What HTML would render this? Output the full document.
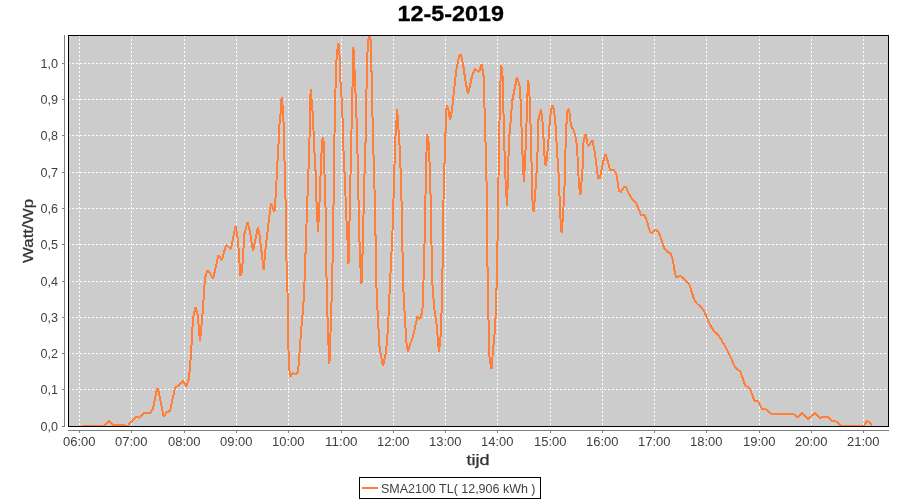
<!DOCTYPE html><html><head><meta charset="utf-8"><style>html,body{margin:0;padding:0;background:#fff;width:900px;height:500px;overflow:hidden}svg{display:block;will-change:transform}text{font-family:"Liberation Sans",sans-serif}</style></head><body>
<svg width="900" height="500" viewBox="0 0 900 500">
<rect x="0" y="0" width="900" height="500" fill="#ffffff"/>
<text x="397.5" y="21" font-size="22" font-weight="bold" fill="#000" stroke="#000" stroke-width="0.3" textLength="106.5" lengthAdjust="spacingAndGlyphs">12-5-2019</text>
<rect x="69" y="36" width="819" height="390" fill="#cccccc"/>
<path d="M79.5 35V426 M131.5 35V426 M184.5 35V426 M236.5 35V426 M288.5 35V426 M341.5 35V426 M393.5 35V426 M445.5 35V426 M497.5 35V426 M550.5 35V426 M602.5 35V426 M654.5 35V426 M706.5 35V426 M759.5 35V426 M811.5 35V426 M863.5 35V426 M68 426.5H888 M68 389.5H888 M68 353.5H888 M68 317.5H888 M68 281.5H888 M68 244.5H888 M68 208.5H888 M68 172.5H888 M68 135.5H888 M68 99.5H888 M68 63.5H888" stroke="#fff" stroke-width="1" stroke-dasharray="2 2" fill="none" shape-rendering="crispEdges"/>
<path d="M82.0 425.6 L102.5 425.6 L104.0 425.6 L109.0 421.0 L113.6 425.2 L128.0 425.6 L131.6 421.0 L135.6 417.2 L140.0 417.6 L144.0 413.0 L150.0 413.0 L153.0 409.0 L157.0 388.4 L158.0 389.0 L163.6 416.4 L167.0 412.0 L170.0 411.0 L175.0 388.0 L179.0 385.0 L183.0 381.0 L186.4 386.6 L189.0 378.0 L191.0 354.0 L193.0 318.0 L195.6 307.0 L197.6 314.0 L200.0 341.0 L202.4 316.0 L205.0 278.0 L207.6 270.0 L210.0 273.0 L213.0 279.0 L216.0 266.0 L218.4 255.0 L222.0 260.0 L226.0 245.0 L231.0 249.0 L233.0 238.0 L235.6 226.0 L238.0 240.0 L240.4 276.0 L242.0 272.0 L244.4 234.0 L247.6 222.0 L250.0 232.0 L253.0 251.0 L258.0 227.0 L260.0 238.0 L263.6 270.0 L266.0 244.0 L271.0 203.0 L274.4 212.0 L276.0 192.0 L277.0 170.0 L278.4 146.0 L279.6 122.0 L281.0 110.0 L281.6 97.0 L283.0 110.0 L283.6 124.0 L284.4 156.0 L285.6 202.0 L286.4 256.0 L287.0 280.0 L288.0 304.0 L288.4 346.0 L289.0 368.0 L290.4 377.0 L292.4 373.0 L296.0 374.0 L298.0 372.0 L299.0 360.0 L300.0 346.0 L301.0 332.0 L303.0 310.0 L304.0 294.0 L305.0 270.0 L306.0 238.0 L307.4 199.0 L309.0 156.0 L310.0 120.0 L310.6 89.0 L313.0 116.0 L314.0 144.0 L315.6 172.0 L316.4 200.0 L318.0 232.0 L320.0 192.0 L321.0 161.0 L322.4 140.0 L323.0 137.0 L324.0 144.0 L324.4 170.0 L325.6 210.0 L326.4 272.0 L327.6 320.0 L328.6 348.0 L329.4 364.0 L330.0 346.0 L331.0 320.0 L332.4 270.0 L333.6 200.0 L334.0 158.0 L335.0 110.0 L336.0 68.0 L337.0 52.0 L338.4 43.0 L340.0 60.0 L340.4 80.0 L342.0 104.0 L343.0 130.0 L343.6 154.0 L345.0 182.0 L346.0 210.0 L348.0 250.0 L348.5 264.0 L350.0 200.0 L351.0 150.0 L352.0 110.0 L353.4 47.0 L355.0 80.0 L357.0 130.0 L358.0 176.0 L359.0 222.0 L360.0 260.0 L361.5 284.0 L363.0 240.0 L364.0 190.0 L365.6 140.0 L367.0 62.0 L368.0 42.0 L369.0 36.0 L370.4 36.0 L371.6 74.0 L372.4 112.0 L373.6 158.0 L375.0 206.0 L376.4 286.0 L378.0 320.0 L379.6 348.0 L383.0 366.0 L386.0 352.0 L388.0 328.0 L389.6 292.0 L391.6 250.0 L393.0 220.0 L394.0 178.0 L395.6 134.0 L397.2 109.0 L398.0 122.0 L399.6 146.0 L401.0 180.0 L402.0 220.0 L403.0 282.0 L405.0 320.0 L406.4 342.0 L408.0 351.6 L410.0 344.0 L412.0 340.0 L414.0 332.0 L417.6 316.0 L420.0 319.0 L422.4 312.0 L423.0 292.0 L424.0 270.0 L425.0 220.0 L426.0 170.0 L427.0 134.0 L428.4 140.0 L429.6 164.0 L431.0 210.0 L432.0 278.0 L434.0 306.0 L437.0 328.0 L438.0 342.0 L439.0 352.0 L440.0 342.0 L441.0 332.0 L442.4 280.0 L443.0 218.0 L444.4 167.0 L445.6 130.0 L446.6 105.6 L448.4 109.0 L450.0 120.0 L452.0 110.0 L454.0 90.0 L456.4 70.0 L459.0 56.0 L461.0 54.4 L463.0 64.0 L465.6 82.0 L468.0 94.0 L470.0 86.0 L472.0 76.0 L475.0 69.0 L479.0 72.0 L481.6 64.0 L483.6 76.0 L484.4 102.0 L485.0 130.0 L485.6 144.0 L487.0 200.0 L487.3 256.0 L488.6 324.0 L489.6 360.0 L491.6 369.0 L493.0 350.0 L494.4 336.0 L495.6 316.0 L496.6 286.0 L497.4 248.0 L498.0 210.0 L499.0 144.0 L500.0 98.0 L501.0 65.0 L502.4 70.0 L503.0 98.0 L504.0 130.0 L505.0 170.0 L507.0 206.0 L509.0 140.0 L511.0 118.0 L512.0 102.0 L517.0 77.0 L519.6 86.0 L520.4 96.0 L521.6 130.0 L523.0 168.0 L524.0 182.0 L526.0 140.0 L527.0 106.0 L528.0 80.0 L529.0 86.0 L530.0 106.0 L531.0 140.0 L532.4 200.0 L533.6 212.0 L535.0 196.0 L536.4 176.0 L537.6 150.0 L538.4 120.0 L541.0 109.0 L542.4 120.0 L543.6 140.0 L545.0 164.0 L546.0 166.0 L548.0 146.0 L549.6 124.0 L551.0 110.0 L552.4 105.0 L554.0 110.0 L555.6 126.0 L557.0 150.0 L559.0 180.0 L560.0 212.0 L561.6 233.0 L563.0 216.0 L564.4 190.0 L566.0 130.0 L567.6 110.0 L569.0 109.0 L571.0 126.0 L573.0 129.0 L575.0 134.0 L577.0 146.0 L579.0 186.0 L580.4 195.0 L582.4 172.0 L583.6 140.0 L585.6 134.0 L588.0 146.0 L590.0 144.0 L592.4 140.0 L595.0 154.0 L598.0 178.0 L600.0 178.0 L603.0 162.0 L605.6 154.0 L608.0 162.0 L610.0 170.0 L614.0 170.0 L616.4 174.0 L619.0 191.0 L621.0 192.0 L624.0 187.0 L626.0 187.0 L628.0 192.0 L632.0 199.0 L636.0 203.0 L639.0 210.0 L641.0 215.0 L644.0 215.0 L646.0 218.0 L650.0 232.0 L652.4 233.0 L655.0 230.0 L658.0 231.0 L661.0 238.0 L664.0 248.0 L668.0 252.0 L671.0 254.0 L673.0 261.0 L674.4 270.0 L676.0 277.0 L678.0 277.0 L680.0 275.6 L683.0 278.0 L686.0 281.0 L689.6 285.0 L692.0 293.0 L694.0 299.0 L697.0 303.6 L701.0 307.0 L704.0 311.0 L707.0 318.0 L710.0 325.0 L714.0 331.0 L719.0 336.0 L722.0 341.0 L725.0 346.0 L728.0 352.0 L731.0 358.0 L734.0 365.0 L736.4 369.0 L740.0 371.0 L742.0 376.0 L745.0 385.0 L747.6 387.0 L750.0 389.0 L752.0 394.0 L754.4 401.0 L758.0 401.0 L759.6 404.0 L762.0 409.0 L767.0 409.6 L771.0 413.6 L793.0 413.6 L797.6 417.6 L802.0 413.0 L808.0 419.0 L815.0 413.0 L820.0 418.0 L823.0 417.0 L827.6 417.0 L832.0 421.0 L837.0 421.6 L841.0 425.6 L864.0 425.6 L867.0 421.0 L869.6 422.4 L872.0 425.6" stroke="#ff7e3a" stroke-width="2" fill="none" stroke-linejoin="bevel" shape-rendering="crispEdges"/>
<rect x="68.5" y="35.5" width="820" height="391" fill="none" stroke="#000" stroke-width="1" shape-rendering="crispEdges"/>
<path d="M64.5 35V427 M68 430.5H889 M62 426.5H64 M62 389.5H64 M62 353.5H64 M62 317.5H64 M62 281.5H64 M62 244.5H64 M62 208.5H64 M62 172.5H64 M62 135.5H64 M62 99.5H64 M62 63.5H64 M79.5 431V433 M131.5 431V433 M184.5 431V433 M236.5 431V433 M288.5 431V433 M341.5 431V433 M393.5 431V433 M445.5 431V433 M497.5 431V433 M550.5 431V433 M602.5 431V433 M654.5 431V433 M706.5 431V433 M759.5 431V433 M811.5 431V433 M863.5 431V433" stroke="#808080" stroke-width="1" fill="none" shape-rendering="crispEdges"/>
<text x="58" y="431" font-size="12" fill="#404040" text-anchor="end" textLength="17.5" lengthAdjust="spacingAndGlyphs">0,0</text>
<text x="58" y="394" font-size="12" fill="#404040" text-anchor="end" textLength="17.5" lengthAdjust="spacingAndGlyphs">0,1</text>
<text x="58" y="358" font-size="12" fill="#404040" text-anchor="end" textLength="17.5" lengthAdjust="spacingAndGlyphs">0,2</text>
<text x="58" y="322" font-size="12" fill="#404040" text-anchor="end" textLength="17.5" lengthAdjust="spacingAndGlyphs">0,3</text>
<text x="58" y="286" font-size="12" fill="#404040" text-anchor="end" textLength="17.5" lengthAdjust="spacingAndGlyphs">0,4</text>
<text x="58" y="249" font-size="12" fill="#404040" text-anchor="end" textLength="17.5" lengthAdjust="spacingAndGlyphs">0,5</text>
<text x="58" y="213" font-size="12" fill="#404040" text-anchor="end" textLength="17.5" lengthAdjust="spacingAndGlyphs">0,6</text>
<text x="58" y="177" font-size="12" fill="#404040" text-anchor="end" textLength="17.5" lengthAdjust="spacingAndGlyphs">0,7</text>
<text x="58" y="140" font-size="12" fill="#404040" text-anchor="end" textLength="17.5" lengthAdjust="spacingAndGlyphs">0,8</text>
<text x="58" y="104" font-size="12" fill="#404040" text-anchor="end" textLength="17.5" lengthAdjust="spacingAndGlyphs">0,9</text>
<text x="58" y="68" font-size="12" fill="#404040" text-anchor="end" textLength="17.5" lengthAdjust="spacingAndGlyphs">1,0</text>
<text x="79.3" y="446" font-size="12" fill="#404040" text-anchor="middle" textLength="32.5" lengthAdjust="spacingAndGlyphs">06:00</text>
<text x="131.3" y="446" font-size="12" fill="#404040" text-anchor="middle" textLength="32.5" lengthAdjust="spacingAndGlyphs">07:00</text>
<text x="184.3" y="446" font-size="12" fill="#404040" text-anchor="middle" textLength="32.5" lengthAdjust="spacingAndGlyphs">08:00</text>
<text x="236.3" y="446" font-size="12" fill="#404040" text-anchor="middle" textLength="32.5" lengthAdjust="spacingAndGlyphs">09:00</text>
<text x="288.3" y="446" font-size="12" fill="#404040" text-anchor="middle" textLength="32.5" lengthAdjust="spacingAndGlyphs">10:00</text>
<text x="341.3" y="446" font-size="12" fill="#404040" text-anchor="middle" textLength="32.5" lengthAdjust="spacingAndGlyphs">11:00</text>
<text x="393.3" y="446" font-size="12" fill="#404040" text-anchor="middle" textLength="32.5" lengthAdjust="spacingAndGlyphs">12:00</text>
<text x="445.3" y="446" font-size="12" fill="#404040" text-anchor="middle" textLength="32.5" lengthAdjust="spacingAndGlyphs">13:00</text>
<text x="497.3" y="446" font-size="12" fill="#404040" text-anchor="middle" textLength="32.5" lengthAdjust="spacingAndGlyphs">14:00</text>
<text x="550.3" y="446" font-size="12" fill="#404040" text-anchor="middle" textLength="32.5" lengthAdjust="spacingAndGlyphs">15:00</text>
<text x="602.3" y="446" font-size="12" fill="#404040" text-anchor="middle" textLength="32.5" lengthAdjust="spacingAndGlyphs">16:00</text>
<text x="654.3" y="446" font-size="12" fill="#404040" text-anchor="middle" textLength="32.5" lengthAdjust="spacingAndGlyphs">17:00</text>
<text x="706.3" y="446" font-size="12" fill="#404040" text-anchor="middle" textLength="32.5" lengthAdjust="spacingAndGlyphs">18:00</text>
<text x="759.3" y="446" font-size="12" fill="#404040" text-anchor="middle" textLength="32.5" lengthAdjust="spacingAndGlyphs">19:00</text>
<text x="811.3" y="446" font-size="12" fill="#404040" text-anchor="middle" textLength="32.5" lengthAdjust="spacingAndGlyphs">20:00</text>
<text x="863.3" y="446" font-size="12" fill="#404040" text-anchor="middle" textLength="32.5" lengthAdjust="spacingAndGlyphs">21:00</text>
<text x="0" y="0" font-size="14" fill="#333" stroke="#333" stroke-width="0.25" text-anchor="middle" textLength="64" lengthAdjust="spacingAndGlyphs" transform="translate(32.5,231) rotate(-90)">Watt/Wp</text>
<text x="478" y="465" font-size="14" fill="#333" stroke="#333" stroke-width="0.25" text-anchor="middle" textLength="23" lengthAdjust="spacingAndGlyphs">tijd</text>
<rect x="359.5" y="477.5" width="181" height="21" fill="#fff" stroke="#000" stroke-width="1" shape-rendering="crispEdges"/>
<rect x="362" y="487" width="16" height="2" fill="#ff7e3a"/>
<text x="381" y="493" font-size="12" fill="#404040" textLength="154.5" lengthAdjust="spacingAndGlyphs">SMA2100 TL( 12,906 kWh )</text>
</svg></body></html>
